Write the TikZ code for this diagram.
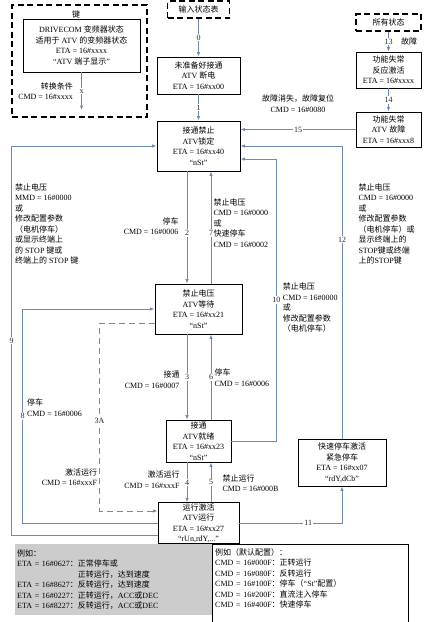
\documentclass[tikz,border=0pt]{standalone}
\usepackage{fontspec}
\setmainfont{Liberation Serif}
\newfontfamily\cjkfont{Noto Sans CJK SC}
\usetikzlibrary{arrows.meta}

% --- Chinese characters take the CJK font by themselves ---
\XeTeXinterchartokenstate=1
\newXeTeXintercharclass\cjkclass
\newcount\cjkcnt
\cjkcnt="3000
\loop\ifnum\cjkcnt<"3040 \XeTeXcharclass\cjkcnt=\cjkclass \advance\cjkcnt by 1 \repeat
\cjkcnt="4E00
\loop\ifnum\cjkcnt<"A000 \XeTeXcharclass\cjkcnt=\cjkclass \advance\cjkcnt by 1 \repeat
\cjkcnt="FF00
\loop\ifnum\cjkcnt<"FF60 \XeTeXcharclass\cjkcnt=\cjkclass \advance\cjkcnt by 1 \repeat
\XeTeXinterchartoks 0 \cjkclass = {\cjkfont}
\XeTeXinterchartoks 4095 \cjkclass = {\cjkfont}
\XeTeXinterchartoks \cjkclass 0 = {\rmfamily}
\XeTeXinterchartoks \cjkclass 4095 = {\rmfamily}

\definecolor{flowc}{RGB}{108,138,178}
\tikzset{
  every node/.style={font=\fontsize{8}{10.5}\selectfont},
  % --- Zustaende ---------------------------------------------
  state/.style={draw, line width=0.9pt, fill=white, align=center,
    inner xsep=1pt, inner ysep=0.5pt},
  dbox/.style={draw, line width=1.2pt, dash pattern=on 6pt off 3.5pt,
    align=center, inner sep=1pt},
  % --- Uebergaenge -------------------------------------------
  fl/.style={draw=flowc, line width=1pt, -{Latex[length=4.5pt,width=3.5pt]}},
  fld/.style={fl, dash pattern=on 6pt off 4pt},
  num/.style={fill=white, inner sep=1pt, text=black!85},
  lbl/.style={align=left, inner sep=1pt},
  lblr/.style={align=right, inner sep=1pt},
  lblc/.style={align=center, inner sep=1pt},
  % --- Beispiele ---------------------------------------------
  exbox/.style={align=left, inner xsep=2pt, inner ysep=4pt, anchor=north west},
  exline/.style={draw, line width=1pt}
}

\begin{document}
\begin{tikzpicture}[x=1pt, y=-1pt]
  \useasboundingbox (0,0) rectangle (433,622);

  % --- Legende ---
  \node[dbox, minimum width=135pt, minimum height=112pt] (key) at (79.5,61) {};
  \node (keyT) at (76,14.5) {键};
  \node[state, minimum width=117pt, minimum height=53pt] (keyS) at (81.5,45.5)
    {DRIVECOM 变频器状态\\适用于 ATV 的变频器状态\\ETA = 16\#xxxx\\“ATV 端子显示”};
  \coordinate (keyE) at (81.5,110);
  \draw[fl] (keyS) -- node[num] {x}
            node[lblr, anchor=east, xshift=-7pt] {转换条件\\CMD = 16\#xxxx} (keyE);

  % --- Zustaende ---
  \node[dbox, minimum width=62pt, minimum height=17pt] (inp) at (198.5,9.5) {输入状态表};
  \node[state, minimum width=83pt, minimum height=37pt] (nrdy) at (198.5,75.5)
    {未准备好接通\\ATV 断电\\ETA = 16\#xx00};
  \node[state, minimum width=83pt, minimum height=50pt] (sod) at (198.5,146)
    {接通禁止\\ATV锁定\\ETA = 16\#xx40\\“nSt”};
  \node[state, minimum width=87pt, minimum height=50pt] (rdy) at (198.5,309)
    {禁止电压\\ATV等待\\ETA = 16\#xx21\\“nSt”};
  \node[state, minimum width=65pt, minimum height=42pt] (son) at (198.5,441)
    {接通\\ATV就绪\\ETA = 16\#xx23\\“nSt”};
  \node[state, minimum width=81pt, minimum height=40pt] (oen) at (198.5,523)
    {运行激活\\ATV运行\\ETA = 16\#xx27\\“rUn,rdY,...”};
  \node[state, minimum width=88pt, minimum height=47pt] (qst) at (342,462.5)
    {快速停车激活\\紧急停车\\ETA = 16\#xx07\\“rdY,dCb”};
  \node[dbox, minimum width=65pt, minimum height=17pt] (all) at (388.5,22.5) {所有状态};
  \node[state, minimum width=65pt, minimum height=36pt] (fra) at (388.5,70)
    {功能失常\\反应激活\\ETA = 16\#xxxx};
  \node[state, minimum width=65pt, minimum height=35pt] (flt) at (388.5,129.5)
    {功能失常\\ATV 故障\\ETA = 16\#xxx8};

  % --- Hauptkette ---
  \draw[fl] (inp) -- node[num] {0} (nrdy);
  \draw[fl] (nrdy) -- node[num] {1} (sod);
  \draw[fl] ([xshift=-11.5pt]sod.south) -- node[num, pos=0.55] {2}
            node[lblr, pos=0.49, anchor=east, xshift=-7pt] {停车\\CMD = 16\#0006}
            ([xshift=-11.5pt]rdy.north);
  \draw[fl] ([xshift=12.5pt]rdy.north) -- node[num, pos=0.45] {7}
            node[lbl, pos=0.54, anchor=west, xshift=1pt]
            {禁止电压\\CMD = 16\#0000\\或\\快速停车\\CMD = 16\#0002}
            ([xshift=12.5pt]sod.south);
  \draw[fl] ([xshift=-11.5pt]rdy.south) -- node[num] {3}
            node[lblr, pos=0.53, anchor=east, xshift=-6pt] {接通\\CMD = 16\#0007}
            ([xshift=-11.5pt]son.north);
  \draw[fl] ([xshift=12.5pt]son.north) -- node[num] {6}
            node[lbl, pos=0.49, anchor=west, xshift=2pt] {停车\\CMD = 16\#0006}
            ([xshift=12.5pt]rdy.south);
  \draw[fl] ([xshift=-11.5pt]son.south) -- node[num] {4}
            node[lblr, pos=0.43, anchor=east, xshift=-6pt] {激活运行\\CMD = 16\#xxxF}
            ([xshift=-11.5pt]oen.north);
  \draw[fl] ([xshift=12.5pt]oen.north) -- node[num] {5}
            node[lbl, pos=0.48, anchor=west, xshift=10pt] {禁止运行\\CMD = 16\#000B}
            ([xshift=12.5pt]son.south);

  % --- Umwege links ---
  \draw[fld] ([yshift=-14pt]rdy.west) -- ++(-55,0) |- node[num, pos=0.26] {3A}
             node[lblr, pos=0.41, anchor=east, xshift=-1pt] {激活运行\\CMD = 16\#xxxF}
             ([yshift=12pt]oen.west);
  \draw[fl] (oen.west) -- ++(-135,0) |- node[num, pos=0.25] {8}
            node[lbl, pos=0.27, anchor=west, xshift=3pt] {停车\\CMD = 16\#0006}
            (rdy.west);
  \draw[fl] ([yshift=-12pt]oen.west) -- ++(-146,0) |- node[num, pos=0.25] {9}
            node[lbl, pos=0.4, anchor=west, xshift=2pt]
            {禁止电压\\MMD = 16\#0000\\或\\修改配置参数\\（电机停车）\\或显示终端上\\的 STOP 键或\\终端上的 STOP 键}
            (sod.west);

  % --- Umwege rechts ---
  \draw[fl] (son.east) -- ++(45,0) |- node[num, pos=0.25] {10}
            node[lbl, pos=0.236, anchor=west, xshift=5pt]
            {禁止电压\\CMD = 16\#0000\\或\\修改配置参数\\（电机停车）}
            ([yshift=-13pt]sod.east);
  \draw[fl] (qst.north) |- node[num, pos=0.34] {12}
            node[lbl, pos=0.367, anchor=west, xshift=15pt]
            {禁止电压\\CMD = 16\#0000\\或\\修改配置参数\\（电机停车）或\\显示终端上的\\STOP键或终端\\上的STOP键}
            (sod.east);
  \draw[fl] (oen.east) -| node[num, pos=0.335] {11} (qst.south);

  % --- Fehler ---
  \draw[fl] (all) -- node[num] {13} node[lbl, anchor=west, xshift=11pt] {故障} (fra);
  \draw[fl] (fra) -- node[num] {14} (flt);
  \draw[fl] (flt.west) -- node[num] {15}
            node[lblc, yshift=26pt] {故障消失，故障复位\\CMD = 16\#0080}
            (flt.west -| sod.east);

  % --- Beispiele ---
  \node[exbox, fill=black!20, text width=194pt, minimum height=71pt, inner ysep=0pt] (exL) at (15,544)
    {例如：\\ETA = 16\#0627：正常停车或\\\phantom{ETA = 16\#0627：}正转运行，达到速度\\
     ETA = 16\#8627：反转运行，达到速度\\ETA = 16\#0227：正转运行，ACC或DEC\\
     ETA = 16\#8227：反转运行，ACC或DEC};
  \node[exbox, fill=white, text width=190pt, inner xsep=3pt] (exR) at (212,544)
    {例如（默认配置）：\\CMD = 16\#000F：正转运行\\CMD = 16\#080F：反转运行\\
     CMD = 16\#100F：停车（“St”配置）\\CMD = 16\#200F：直流注入停车\\
     CMD = 16\#400F：快速停车};
  \draw[exline] ([yshift=-12pt]exR.south west) |- (exR.north east)
                -- ([yshift=-12pt]exR.south east);

\end{tikzpicture}
\end{document}
